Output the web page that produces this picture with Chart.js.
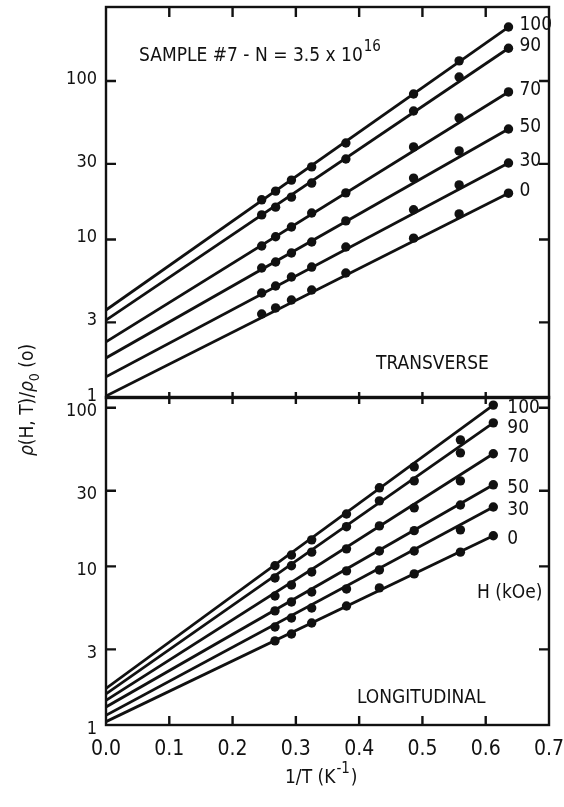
<!DOCTYPE html>
<html>
<head>
<meta charset="utf-8">
<script src="https://cdn.jsdelivr.net/npm/chart.js@4.4.1/dist/chart.umd.min.js"></script>
<style>
  html, body { margin: 0; padding: 0; background: #fff; }
  #wrap { position: relative; width: 564px; height: 807px; }
  canvas { position: absolute; left: 0; top: 0; }
</style>
</head>
<body>
<div id="wrap">
  <canvas id="top" width="564" height="807"></canvas>
  <canvas id="bottom" width="564" height="807"></canvas>
</div>
<script>
// Valores (campo H en kOe)
const fields = ['0', '30', '50', '70', '90', '100'];
const xTicks = [0, 0.1, 0.2, 0.3, 0.4, 0.5, 0.6, 0.7];
const yTicks = [1, 3, 10, 30, 100];

// Panel superior: transversal
const topX = [0.246, 0.268, 0.293, 0.325, 0.379, 0.486, 0.558, 0.636];
const top0 = [3.39, 3.70, 4.15, 4.80, 6.15, 10.2, 14.5, 19.6];
const top30 = [4.60, 5.09, 5.80, 6.70, 8.97, 15.4, 22.1, 30.4];
const top50 = [6.61, 7.21, 8.22, 9.64, 13.1, 24.4, 36.2, 49.8];
const top70 = [9.10, 10.4, 12.0, 14.7, 19.7, 38.4, 58.4, 85.3];
const top90 = [14.3, 16.0, 18.5, 22.7, 32.2, 64.7, 106, 161];
const top100 = [17.8, 20.2, 23.7, 28.7, 40.6, 82.8, 134, 219];
const topFitStart = [1.03, 1.36, 1.79, 2.26, 3.1, 3.59];
const topFitEnd = [19.6, 30.4, 49.8, 85.3, 161, 219];

// Panel inferior: longitudinal
const botX = [0.267, 0.293, 0.325, 0.380, 0.432, 0.487, 0.560, 0.612];
const bot0 = [3.39, 3.75, 4.40, 5.63, 7.32, 8.97, 12.3, 15.6];
const bot30 = [4.15, 4.73, 5.47, 7.21, 9.50, 12.5, 17.0, 23.7];
const bot50 = [5.24, 5.97, 6.90, 9.37, 12.5, 16.8, 24.4, 32.7];
const bot70 = [6.51, 7.64, 9.23, 12.9, 18.0, 23.4, 34.6, 51.3];
const bot90 = [8.46, 10.1, 12.3, 17.8, 25.9, 34.6, 52.0, 80.4];
const bot100 = [10.1, 11.8, 14.7, 21.4, 31.3, 42.4, 62.8, 104];
const botFitStart = [1.05, 1.15, 1.3, 1.43, 1.57, 1.7];
const botFitEnd = [15.6, 23.7, 32.7, 51.3, 80.4, 104];

const ink = '#111';
const family = "'Liberation Sans Narrow', 'DejaVu Sans Condensed', sans-serif";

function buildDatasets(xs, series, fitStart, fitEnd) {
    const sets = [];
    series.forEach((vals, i) => {
        sets.push({
            label: 'fit ' + fields[i],
            data: [{ x: 0, y: fitStart[i] }, { x: xs[xs.length - 1], y: fitEnd[i] }],
            showLine: true,
            borderColor: ink,
            borderWidth: 2.8,
            pointRadius: 0
        });
        sets.push({
            label: 'H ' + fields[i],
            data: xs.map((x, k) => ({ x, y: vals[k] })),
            showLine: false,
            pointRadius: 4.7,
            pointBackgroundColor: ink,
            pointBorderColor: ink,
            pointBorderWidth: 0
        });
    });
    return sets;
}

// Marco y marcas de los ejes
const frame = {
    id: 'frame',
    afterDatasetsDraw(chart, args, opts) {
        const { ctx, chartArea: a, scales: { x, y } } = chart;
        ctx.save();
        ctx.strokeStyle = ink;
        ctx.lineWidth = 2.4;
        ctx.strokeRect(a.left, a.top, a.right - a.left, a.bottom - a.top);
        xTicks.slice(1, -1).forEach(v => {
            const px = x.getPixelForValue(v);
            ctx.beginPath();
            if (opts.topTicks) { ctx.moveTo(px, a.top); ctx.lineTo(px, a.top + 10); }
            if (opts.crossBottom) { ctx.moveTo(px, a.bottom - 6); ctx.lineTo(px, a.bottom + 6); }
            if (opts.bottomTicks) { ctx.moveTo(px, a.bottom); ctx.lineTo(px, a.bottom - 9); }
            ctx.stroke();
        });
        yTicks.slice(1).forEach(v => {
            const py = y.getPixelForValue(v);
            if (py < a.top + 2) return;
            ctx.beginPath();
            ctx.moveTo(a.left, py); ctx.lineTo(a.left + 10, py);
            ctx.moveTo(a.right, py); ctx.lineTo(a.right - 10, py);
            ctx.stroke();
        });
        ctx.restore();
    }
};

// Etiquetas de cada curva y textos del panel
const notes = {
    id: 'notes',
    afterDraw(chart, args, opts) {
        const { ctx, scales: { x, y } } = chart;
        ctx.save();
        ctx.fillStyle = ink;
        ctx.textBaseline = 'middle';
        ctx.font = '19px ' + family;
        let lastY = -1e9;
        const ends = opts.fitEnd.map((v, i) => ({ t: fields[i], py: y.getPixelForValue(v) }))
            .sort((p, q) => p.py - q.py);
        const px = x.getPixelForValue(opts.lastX) + opts.labelGap;
        ends.forEach(e => {
            const py = Math.max(e.py + opts.labelDy, lastY + 20);
            ctx.fillText(e.t, px, py);
            lastY = py;
        });
        ctx.textBaseline = 'alphabetic';
        (opts.texts || []).forEach(t => {
            ctx.font = '19px ' + family;
            ctx.fillText(t.text, t.x, t.y);
            if (t.sup) {
                const w = ctx.measureText(t.text).width;
                ctx.font = '15px ' + family;
                ctx.fillText(t.sup, t.x + w + 1, t.y - 10);
                if (t.after) {
                    const w2 = ctx.measureText(t.sup).width;
                    ctx.font = '19px ' + family;
                    ctx.fillText(t.after, t.x + w + w2 + 2, t.y);
                }
            }
        });
        if (opts.yTitle) {
            ctx.translate(27, 400);
            ctx.rotate(-Math.PI / 2);
            const parts = [
                { t: 'ρ', f: 'italic 19px ', dy: 0 },
                { t: '(H, T)/', f: '19px ', dy: 0 },
                { t: 'ρ', f: 'italic 19px ', dy: 0 },
                { t: '0', f: '14px ', dy: 6 },
                { t: ' (o)', f: '19px ', dy: 0 }
            ];
            let total = 0;
            parts.forEach(p => { ctx.font = p.f + family; p.w = ctx.measureText(p.t).width; total += p.w; });
            let cx = -total / 2;
            parts.forEach(p => {
                ctx.font = p.f + family;
                ctx.fillText(p.t, cx, 6 + p.dy);
                cx += p.w;
            });
        }
        ctx.restore();
    }
};

function makeChart(id, datasets, yMax, pad, xShow, labelShift, extra) {
    return new Chart(document.getElementById(id), {
        type: 'scatter',
        data: { datasets },
        plugins: [frame, notes],
        options: {
            responsive: false,
            animation: false,
            events: [],
            layout: { padding: pad },
            plugins: {
                legend: { display: false },
                tooltip: { enabled: false },
                frame: extra.frame,
                notes: extra.notes
            },
            scales: {
                x: {
                    type: 'linear',
                    min: 0,
                    max: 0.7,
                    display: xShow,
                    grid: { display: false, drawTicks: false },
                    border: { display: false },
                    afterBuildTicks: s => { s.ticks = xTicks.map(v => ({ value: v })); },
                    afterFit: s => {
                        s.height = xShow ? 82 : 0;
                        s.paddingLeft = 0;
                        s.paddingRight = 0;
                    },
                    ticks: {
                        color: ink,
                        padding: 12,
                        maxRotation: 0,
                        autoSkip: false,
                        font: { family, size: 21 },
                        callback: v => v.toFixed(1)
                    }
                },
                y: {
                    type: 'logarithmic',
                    min: 1,
                    max: yMax,
                    grid: { display: false, drawTicks: false },
                    border: { display: false },
                    afterBuildTicks: s => { s.ticks = yTicks.map(v => ({ value: v })); },
                    afterFit: s => {
                        s.width = 106;
                        s.paddingTop = 0;
                        s.paddingBottom = 0;
                    },
                    ticks: {
                        color: ink,
                        padding: 9,
                        autoSkip: false,
                        labelOffset: labelShift,
                        font: { family, size: 18 },
                        callback: v => String(v)
                    }
                }
            }
        }
    });
}

makeChart('top',
    buildDatasets(topX, [top0, top30, top50, top70, top90, top100], topFitStart, topFitEnd),
    293,
    { top: 7, right: 15, bottom: 409, left: 0 },
    false,
    -2,
    {
        frame: { topTicks: true, crossBottom: true },
        notes: {
            fitEnd: topFitEnd, lastX: topX[topX.length - 1], labelGap: 11, labelDy: -2, yTitle: true,
            texts: [
                { text: 'SAMPLE #7 - N = 3.5 x 10', sup: '16', x: 139, y: 61 },
                { text: 'TRANSVERSE', x: 376, y: 369 }
            ]
        }
    });

makeChart('bottom',
    buildDatasets(botX, [bot0, bot30, bot50, bot70, bot90, bot100], botFitStart, botFitEnd),
    117,
    { top: 397, right: 15, bottom: 0, left: 0 },
    true,
    4,
    {
        frame: { bottomTicks: true },
        notes: {
            fitEnd: botFitEnd, lastX: botX[botX.length - 1], labelGap: 14, labelDy: 3, yTitle: false,
            texts: [
                { text: 'H (kOe)', x: 477, y: 598 },
                { text: 'LONGITUDINAL', x: 357, y: 703 },
                { text: '1/T (K', sup: '-1', after: ')', x: 285, y: 783 }
            ]
        }
    });
</script>
</body>
</html>
